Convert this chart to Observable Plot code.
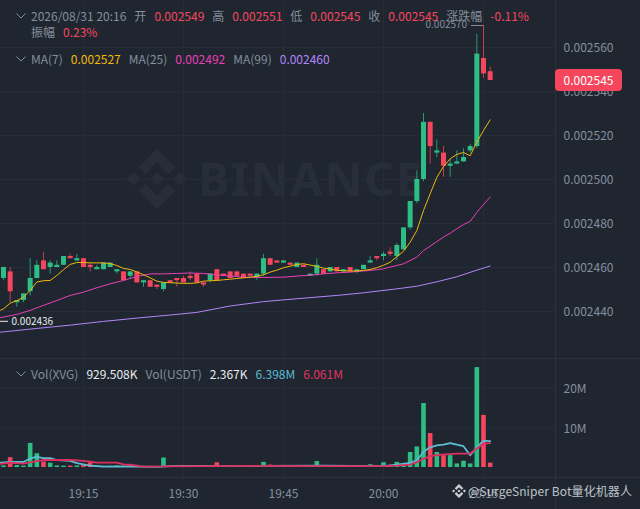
<!DOCTYPE html>
<html lang="zh">
<head>
<meta charset="utf-8">
<script src="https://cdn.jsdelivr.net/npm/d3@7"></script>
<script src="https://cdn.jsdelivr.net/npm/@observablehq/plot@0.6"></script>
<style>
  html, body { margin: 0; padding: 0; background: #1f2630; }
  #root { position: relative; width: 640px; height: 509px; overflow: hidden; background: #1f2630;
    font-family: "Noto Sans CJK SC", "Noto Sans", sans-serif; font-size: 12px; color: #848e9c; }
  .row { position: absolute; left: 31px; white-space: nowrap; line-height: 16px; display: flex; gap: 8px; z-index: 5; }
  .chev { position: absolute; left: 16px; z-index: 5; }
  .red { color: #f6465d; } .white { color: #eaecef; }
  .line { position: absolute; background: #2b323d; z-index: 1; }
  #tag { position: absolute; left: 555px; width: 67px; height: 22px; line-height: 22px; text-align: center; border-radius: 4px;
    background: #f6465d; color: #fff; font-size: 12px; z-index: 6; }
  #wm { position: absolute; z-index: 0; left: 198px; top: 145px; font: 700 47px/66px "Noto Sans", sans-serif; letter-spacing: 1.5px; color: #272e39; }
  #credit { position: absolute; left: 468px; top: 483px; font-size: 12px; letter-spacing: .1px; line-height: 16px; color: #dfe3e8; opacity: .82; z-index: 7; white-space: nowrap; }
  svg.logo { position: absolute; }
</style>
</head>
<body>
<div id="root">
  <svg class="logo" style="left:127px;top:149px;z-index:0" width="60" height="60" viewBox="0 0 24 24"><path id="lg" fill="#272e39" d="M16.624 13.9202l2.7175 2.7154-7.353 7.353-7.353-7.352 2.7175-2.7164 4.6355 4.6595 4.6356-4.6595zm4.6366-4.6366L24 12l-2.7154 2.7164L18.5682 12l2.6924-2.7164zm-9.272.001l2.7163 2.6914-2.7164 2.7174v-.001L9.2721 12l2.7164-2.7154zm-9.2722-.001L5.4088 12l-2.6914 2.6924L0 12l2.7164-2.7164zM11.9885.0115l7.353 7.329-2.7174 2.7154-4.6356-4.6356-4.6355 4.6595-2.7174-2.7154 7.353-7.353z"/></svg>
  <div id="wm">BINANCE</div>
  <svg class="logo" style="left:452px;top:484px;z-index:7;opacity:.85" width="14" height="14" viewBox="0 0 24 24"><path fill="#eaecef" d="M16.624 13.9202l2.7175 2.7154-7.353 7.353-7.353-7.352 2.7175-2.7164 4.6355 4.6595 4.6356-4.6595zm4.6366-4.6366L24 12l-2.7154 2.7164L18.5682 12l2.6924-2.7164zm-9.272.001l2.7163 2.6914-2.7164 2.7174v-.001L9.2721 12l2.7164-2.7154zm-9.2722-.001L5.4088 12l-2.6914 2.6924L0 12l2.7164-2.7164zM11.9885.0115l7.353 7.329-2.7174 2.7154-4.6356-4.6356-4.6355 4.6595-2.7174-2.7154 7.353-7.353z"/></svg>

  <div class="line" style="left:555px;top:0;width:1px;height:509px"></div>
  <div class="line" style="left:0;top:358px;width:640px;height:1px"></div>
  <div class="line" style="left:0;top:477px;width:640px;height:1px"></div>

  <svg class="chev" style="top:13px" width="10" height="6"><path d="M.5.5l4.5 4.5 4.5-4.5" fill="none" stroke="#848e9c"/></svg>
  <div class="row" style="top:8px">
    <span>2026/08/31 20:16</span><span>开</span><span class="red">0.002549</span><span>高</span><span class="red">0.002551</span><span>低</span><span class="red">0.002545</span><span>收</span><span class="red">0.002545</span><span>涨跌幅</span><span class="red">-0.11%</span>
  </div>
  <div class="row" style="top:24px"><span>振幅</span><span class="red">0.23%</span></div>

  <svg class="chev" style="top:56px" width="10" height="6"><path d="M.5.5l4.5 4.5 4.5-4.5" fill="none" stroke="#848e9c"/></svg>
  <div class="row" style="top:51px">
    <span>MA(7)</span><span style="color:#f0b90b">0.002527</span><span>MA(25)</span><span style="color:#eb40b5">0.002492</span><span>MA(99)</span><span style="color:#b385f8">0.002460</span>
  </div>

  <svg class="chev" style="top:371px" width="10" height="6"><path d="M.5.5l4.5 4.5 4.5-4.5" fill="none" stroke="#848e9c"/></svg>
  <div class="row" style="top:366px">
    <span>Vol(XVG)</span><span class="white">929.508K</span><span>Vol(USDT)</span><span class="white">2.367K</span><span style="color:#5dbcd2">6.398M</span><span style="color:#e0345f">6.061M</span>
  </div>

  <div id="tag">0.002545</div>
  <div id="credit">@SurgeSniper Bot量化机器人</div>
</div>

<script>
// Candles: one per minute, starting 19:03. Prices in millionths.
const firstMinute = -12; // minutes relative to 19:15
const opens = [2455,2458,2444,2445,2449,2455,2463,2460,2460,2461,2465,2463,
  2464,2461,2459,2459,2460,2458,2458,2456,2458,2453,2454,2452,2450,2454,2455,2455,2456,2457,
  2453,2454,2459,2457,2458,2458,2457,2457,2455,2457,2464,2463,2462,2462,2460,2461,2456,2457,2459,2458,2460,2458,2460,2458,2459,2462,2465,2465,2467,2465,
  2468,2478,2490,2500,2526,2512,2512,2506,2507,2508,2513,2515,2555,2549];
const closes = [2460,2449,2445,2448,2455,2461,2459,2462,2461,2465,2464,2464,
  2460,2460,2460,2462,2462,2459,2454,2458,2453,2454,2451,2451,2453,2453,2454,2453,2455,2453,
  2452,2457,2454,2456,2455,2456,2455,2456,2457,2464,2461,2462,2463,2461,2462,2460,2457,2461,2457,2460,2458,2459,2458,2459,2461,2463,2464,2466,2466,2470,
  2478,2490,2500,2526,2515,2513,2506,2507,2508,2510,2515,2557,2548,2545];
const highs = [2460,2460,2445,2448,2464,2463,2467,2463,2463,2465,2466,2466,
  2464,2462,2461,2462,2462,2459,2458,2458,2458,2454,2454,2452,2453,2454,2455,2456,2458,2457,
  2453,2457,2459,2457,2458,2458,2457,2457,2457,2466,2464,2463,2463,2462,2462,2461,2457,2464,2459,2460,2460,2459,2460,2459,2461,2465,2465,2467,2469,2471,
  2478,2490,2504,2530,2526,2518,2515,2509,2513,2514,2516,2566,2570,2551];
const lows = [2454,2444,2442,2444,2447,2455,2459,2457,2460,2461,2464,2463,
  2460,2458,2459,2459,2460,2457,2454,2455,2453,2451,2451,2450,2449,2453,2451,2453,2454,2453,
  2451,2453,2454,2456,2455,2456,2455,2456,2454,2456,2461,2462,2462,2461,2460,2460,2456,2456,2457,2458,2458,2458,2458,2457,2459,2462,2463,2463,2465,2463,
  2468,2477,2489,2499,2507,2510,2501,2501,2507,2508,2512,2514,2546,2545];
// Volume in millions
const volumes = [.4,2.5,.5,.35,6.1,3.5,1.4,1.1,.4,.35,.35,.4,
  .5,1.2,.4,.3,.3,.4,.3,.35,.2,.2,.2,.2,2.4,.4,.35,.3,.3,.3,
  .3,.35,1.2,.4,.3,.3,.35,.4,.5,1.3,.6,.5,.4,.4,.4,.4,.3,1.5,.5,.4,.5,.4,.4,.4,.3,.7,.3,1.2,.4,1.3,
  .8,3.8,5.2,16.2,8.6,3.8,3,3,.9,1.6,.9,25.3,13.2,1.1];
const ma7Minutes = [-12.45].concat(opens.map((_, i) => firstMinute + i));
const ma7Values = [2440.6,2441.2,2443.8,2444.9,2446.5,2449.6,2453.4,2454,2454.1,2456.4,2459,2461.4,2462.3,
  2462.3,2462.1,2462.1,2462.1,2461.8,2460.9,2459.6,2459.1,2458,2456.7,2455.3,2453.8,2453.2,2453.1,2452.9,2452.8,2452.8,2453,
  2453.8,2454,2454.1,2454.4,2454.7,2455,2455.3,2455.6,2456,2456.7,2457.9,2458.8,2459.9,2460.6,2461.4,2461.7,2461.1,2460.5,2459.7,2459.3,2458.8,2458.5,2458.4,2458.4,2458.7,2459.1,2459.9,2461,2462.4,2464.9,
  2467.4,2471.5,2476.8,2485.9,2493.5,2501,2505.9,2509.4,2511.4,2512.3,2510.8,2517,2522.3,2527.1];
const ma25Minutes = [-12.45,-10,-8,-6,-4,-2,0,2,4,6,8,10,12,14,16,18,20,22,24,26,28,30,32,34,36,38,40,42,44,45,46,47,48,49,50,51,52,53,54,55,56,57,58,59,60,61];
const ma25Values = [2437.2,2438.7,2440.5,2442.8,2445,2447.3,2448.8,2450.8,2452.6,2454.1,2455.9,2457.1,2457.1,2457.3,2457.5,2457.3,2456.7,2456.1,2455.6,2455.5,2455.5,2455.6,2456.1,2456.5,2457.1,2457.6,2457.9,2458.4,2459,2459.4,2460.2,2460.9,2461.7,2463.2,2464.7,2467.7,2469.7,2471.8,2473.8,2475.6,2477.6,2479.5,2481,2485.1,2488.6,2492];
const ma99Minutes = [-12.45,-7,-2,3,8,13,17,22,27,32,38,42,47,50,53,56,59,61];
const ma99Values = [2430.6,2432.3,2433.8,2435.5,2437,2438.4,2439.6,2442.5,2444.5,2445.8,2447.3,2448.5,2450.3,2451.5,2453.5,2455.8,2458.8,2460.7];
const volCyanMinutes = [-12.45,-11,-9,-8,-7,-6,-5,-4,-2,-1,1,3,7,11,14,20,25,36,45,47,49,50,51,52,53,54,55,56,57,58,59,60,61];
const volCyanValues = [1.2,1.4,1.4,2.3,2.7,2.4,2.4,1.9,1.7,1.1,.5,.2,.25,.15,.4,.4,.4,.5,.35,.7,1.2,1.8,4,5.1,5.6,5.8,6.2,5.8,5.4,3.1,5.1,6.8,6.7];
const volCrimsonMinutes = [-12.45,-11,-9,-8,-7,-6,-2,0,1,2,5,6,7,9,12,25,36,45,47,49,50,51,52,53,54,55,56,57,58,59,60,61];
const volCrimsonValues = [.9,1.2,1,1.3,1.6,1.9,1.9,1.7,1.5,1.25,1.25,.8,.7,.2,.3,.4,.35,.35,.5,.75,1.35,2.2,2.9,3.1,3.3,3.4,3.5,3.5,3.55,4.8,6,6.2];

const priceTicks = [2440,2460,2480,2500,2520,2540,2560];
const volumeTicks = [10,20];
const timeTicks = [0,15,30,45,60];
const lastPrice = 2545, highMark = 2570, lowMark = 2436;

const GREEN = "#2ebd85", RED = "#f6465d", GRID = "#262d38", TXT = "#848e9c";
const FONT = '"Noto Sans CJK SC","Noto Sans",sans-serif';
const base = Date.UTC(2026, 7, 31, 19, 15);
const at = m => new Date(base + m * 60000);
const price = v => v / 1e6;

const candles = opens.map((o, i) => ({
  date: at(firstMinute + i), open: price(o), close: price(closes[i]), high: price(highs[i]), low: price(lows[i]),
  volume: volumes[i], dir: closes[i] >= o ? "up" : "down"
}));
const series = (ms, vs, f = d => d) => ms.map((m, i) => ({date: at(m), v: f(vs[i])}));

const xDomain = [at(-12.45), at(70.8)];
const root = document.getElementById("root");
const dirColor = {domain: ["up", "down"], range: [GREEN, RED]};

const priceChart = Plot.plot({
  width: 640, height: 358, marginLeft: 0, marginRight: 85, marginTop: 0, marginBottom: 0,
  style: {background: "transparent", color: TXT, fontFamily: FONT, fontSize: "12px", position: "absolute", left: 0, top: 0, zIndex: 2, overflow: "visible", maxWidth: "none"},
  x: {domain: xDomain, axis: null},
  y: {domain: [2418.64e-6, 2581.36e-6], axis: null},
  color: dirColor,
  marks: [
    Plot.gridX(timeTicks.map(at), {stroke: GRID, strokeOpacity: 1}),
    Plot.gridY(priceTicks.map(price), {stroke: GRID, strokeOpacity: 1}),
    Plot.axisY(priceTicks.map(price), {anchor: "right", tickSize: 0, tickPadding: 8, dy: 1, tickFormat: d3.format(".6f"), label: null}),
    Plot.ruleX(candles, {x: "date", y1: "low", y2: "high", stroke: "dir", strokeWidth: 1, strokeOpacity: 0.75}),
    Plot.ruleX(candles, {x: "date", y1: "open", y2: "close", stroke: "dir", strokeWidth: 5}),
    Plot.line(series(ma99Minutes, ma99Values, price), {x: "date", y: "v", stroke: "#b385f8", strokeWidth: 1}),
    Plot.line(series(ma25Minutes, ma25Values, price), {x: "date", y: "v", stroke: "#eb40b5", strokeWidth: 1}),
    Plot.line(series(ma7Minutes, ma7Values, price), {x: "date", y: "v", stroke: "#f0b90b", strokeWidth: 1}),
    Plot.ruleY([price(highMark)], {x1: at(58.2), x2: at(60), stroke: TXT, strokeWidth: 1}),
    Plot.text([price(highMark)], {x: at(58), y: d => d, dy: -1, text: d => d3.format(".6f")(d), textAnchor: "end", dx: -3, fill: TXT, fontSize: 10}),
    Plot.ruleY([price(lowMark)], {x1: at(-12.45), x2: at(-11.25), dy: 1, stroke: "#eaecef", strokeWidth: 1}),
    Plot.text([price(lowMark)], {x: at(-11.25), y: d => d, dy: 1, dx: 3, text: d => d3.format(".6f")(d), textAnchor: "start", fill: "#eaecef", fontSize: 10})
  ]
});
root.appendChild(priceChart);
document.getElementById("tag").style.top = (priceChart.scale("y").apply(price(lastPrice)) - 11) + "px";

const volumeChart = Plot.plot({
  width: 640, height: 151, marginLeft: 0, marginRight: 85, marginTop: 0, marginBottom: 32,
  style: {background: "transparent", color: TXT, fontFamily: FONT, fontSize: "12px", position: "absolute", left: 0, top: "358px", zIndex: 3, overflow: "visible", maxWidth: "none"},
  x: {domain: xDomain, axis: null},
  y: {domain: [-2.53, 27.6], axis: null},
  color: dirColor,
  marks: [
    Plot.gridX(timeTicks.map(at), {stroke: GRID, strokeOpacity: 1}),
    Plot.gridY(volumeTicks, {stroke: GRID, strokeOpacity: 1}),
    Plot.axisY(volumeTicks, {anchor: "right", tickSize: 0, tickPadding: 8, dy: 1, tickFormat: d => d + "M", label: null}),
    Plot.axisX(timeTicks.map(at), {anchor: "bottom", tickSize: 0, tickPadding: 12, tickFormat: d3.utcFormat("%H:%M"), label: null}),
    Plot.ruleX(candles, {x: "date", y1: 0, y2: "volume", stroke: "dir", strokeWidth: 4.6}),
    Plot.line(series(volCyanMinutes, volCyanValues), {x: "date", y: "v", stroke: "#5dbcd2", strokeWidth: 1.8}),
    Plot.line(series(volCrimsonMinutes, volCrimsonValues), {x: "date", y: "v", stroke: "#d9305f", strokeWidth: 1.8})
  ]
});
root.appendChild(volumeChart);
</script>
</body>
</html>
